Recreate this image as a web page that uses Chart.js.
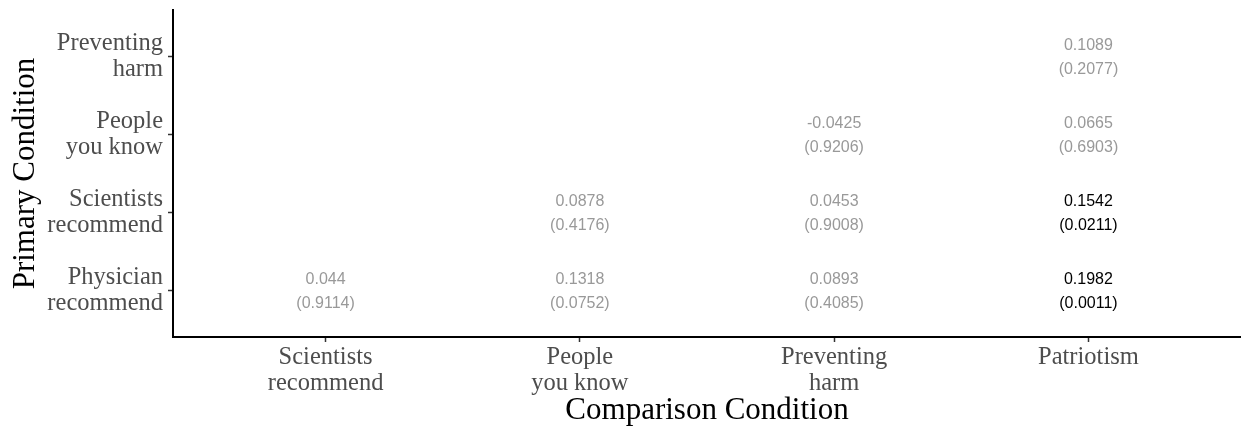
<!DOCTYPE html>
<html>
<head>
<meta charset="utf-8">
<script src="https://cdn.jsdelivr.net/npm/chart.js@4/dist/chart.umd.min.js"></script>
<style>
  html, body { margin: 0; padding: 0; background: #fff; }
  #wrap { width: 1241px; height: 428px; position: relative; }
</style>
</head>
<body>
<div id="wrap"><canvas id="chart"></canvas></div>
<script>
// Comparison condition (x) and primary condition (y, bottom to top).
var comparisonLabels = [["Scientists", "recommend"], ["People", "you know"], ["Preventing", "harm"], ["Patriotism"]];
var primaryLabels = [["Physician", "recommend"], ["Scientists", "recommend"], ["People", "you know"], ["Preventing", "harm"]];

// One entry per filled cell.
var cellCol = [0, 1, 2, 3, 1, 2, 3, 2, 3, 3];
var cellRow = [0, 0, 0, 0, 1, 1, 1, 2, 2, 3];
var estimates = [0.044, 0.1318, 0.0893, 0.1982, 0.0878, 0.0453, 0.1542, -0.0425, 0.0665, 0.1089];
var pValues = ["0.9114", "0.0752", "0.4085", "0.0011", "0.4176", "0.9008", "0.0211", "0.9206", "0.6903", "0.2077"];

(function () {
  "use strict";

  var points = [];
  for (var i = 0; i < cellCol.length; i++) points.push({ x: cellCol[i], y: cellRow[i] });

  // Draws the estimate / (p-value) pair at each cell position; significant ones in black.
  var cellText = {
    id: "cellText",
    afterDatasetsDraw: function (chart) {
      var ctx = chart.ctx;
      var meta = chart.getDatasetMeta(0);
      ctx.save();
      ctx.font = "16px 'Liberation Sans', Arial, sans-serif";
      ctx.textAlign = "center";
      ctx.textBaseline = "middle";
      for (var i = 0; i < meta.data.length; i++) {
        var pt = meta.data[i];
        ctx.fillStyle = parseFloat(pValues[i]) < 0.05 ? "#000000" : "#999999";
        ctx.fillText(String(estimates[i]), pt.x, pt.y - 11);
        ctx.fillText("(" + pValues[i] + ")", pt.x, pt.y + 13);
      }
      ctx.restore();
    }
  };

  function intTicks(scale) {
    scale.ticks = [0, 1, 2, 3].map(function (v) { return { value: v }; });
  }

  var tickFont = { family: "'Liberation Serif', 'Times New Roman', serif", size: 24.5, lineHeight: 1.06 };
  var titleFont = { family: "'Liberation Serif', 'Times New Roman', serif", size: 31, lineHeight: 1.1 };

  new Chart(document.getElementById("chart"), {
    type: "scatter",
    data: { datasets: [{ data: points, pointRadius: 0, pointHoverRadius: 0 }] },
    options: {
      responsive: true,
      maintainAspectRatio: false,
      animation: false,
      events: [],
      layout: { padding: { top: 10, right: 0, bottom: 0, left: 0 } },
      plugins: { legend: { display: false }, tooltip: { enabled: false } },
      scales: {
        x: {
          type: "linear",
          min: -0.6,
          max: 3.6,
          afterBuildTicks: intTicks,
          afterFit: function (s) { s.height = 91; s.paddingLeft = 0; s.paddingRight = 0; },
          grid: { drawOnChartArea: false, drawTicks: true, tickLength: 5, tickColor: "#333333", tickWidth: 1.5 },
          border: { display: true, color: "#000000", width: 2 },
          ticks: {
            color: "#4d4d4d", font: tickFont, padding: 3, maxRotation: 0, autoSkip: false,
            callback: function (v) { return comparisonLabels[v]; }
          },
          title: { display: true, text: "Comparison Condition", color: "#000000", font: titleFont, padding: { top: 0, bottom: 0 } }
        },
        y: {
          type: "linear",
          min: -0.6,
          max: 3.6,
          afterBuildTicks: intTicks,
          // the outer ticks sit well inside the axis range, so no extra label room is needed
          afterFit: function (s) { s.width = 173; s.paddingTop = 0; s.paddingBottom = 0; },
          grid: { drawOnChartArea: false, drawTicks: true, tickLength: 5, tickColor: "#333333", tickWidth: 1.5 },
          border: { display: true, color: "#000000", width: 2 },
          ticks: {
            color: "#4d4d4d", font: tickFont, padding: 5, autoSkip: false,
            callback: function (v) { return primaryLabels[v]; }
          },
          title: { display: true, text: "Primary Condition", color: "#000000", font: titleFont, padding: { top: 9, bottom: 0 } }
        }
      }
    },
    plugins: [cellText]
  });
})();
</script>
</body>
</html>
